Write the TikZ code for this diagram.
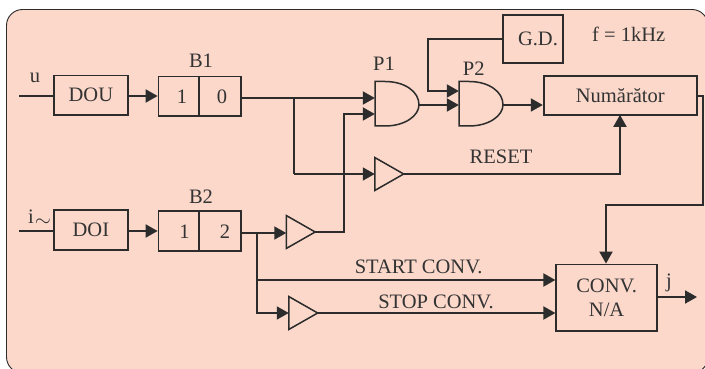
\documentclass[tikz,border=0pt]{standalone}
\usepackage{fontspec}
\setmainfont{Liberation Serif}
\usetikzlibrary{arrows.meta}
\definecolor{bgc}{HTML}{FBD8CA}
\definecolor{ink}{HTML}{2C2C2C}
\definecolor{txtc}{HTML}{333333}
\tikzset{
  boxn/.style={draw=ink,line width=1.7pt,inner sep=0pt,text=txtc,font=\fontsize{20.5}{23}\selectfont,align=center},
  lab/.style={inner sep=0pt,text=txtc,font=\fontsize{20.5}{23}\selectfont},
  gaten/.style={inner sep=0pt,minimum width=44pt,minimum height=44.5pt},
  buffn/.style={inner sep=0pt,minimum width=28.5pt,minimum height=32.6pt},
  wire/.style={draw=ink,line width=1.9pt},
  arr/.style={wire,-{Triangle[length=12pt,width=13pt]}},
  symb/.style={draw=ink,line width=1.5pt,line join=miter}
}
\newcommand{\gateshape}[1]{\begin{scope}[shift={(#1.center)}]
\draw[symb] (-22,-22.25) -- (-12,-22.25) .. controls (8,-22.25) and (22,-12) .. (22,1) .. controls (22,12) and (8,22.25) .. (-12,22.25) -- (-22,22.25) -- cycle;
\end{scope}}
\newcommand{\buffshape}[1]{\draw[symb] (#1.north west) -- (#1.east) -- (#1.south west) -- cycle;}
\begin{document}
\begin{tikzpicture}[x=1pt,y=-1pt]
\useasboundingbox (0,0) rectangle (705,369);
\clip (0,0) rectangle (705,369);
\draw[draw=ink,line width=0.9pt,fill=bgc,rounded corners=16pt] (6.5,9.5) rectangle (708,373);

% boxes
\node[boxn,minimum width=73.5pt,minimum height=39.5pt] (DOU) at (90.9,95.3) {DOU};
\node[boxn,minimum width=73.5pt,minimum height=40pt] (DOI) at (90.9,230) {DOI};
\node[boxn,minimum width=40.5pt,minimum height=39.5pt] (B1l) at (178.75,96.4) {\hspace{6.5pt}1};
\node[boxn,minimum width=42pt,minimum height=39.5pt] (B1r) at (220,96.4) {\hspace{4pt}0};
\node[boxn,minimum width=40.5pt,minimum height=40pt] (B2l) at (178.75,231.3) {\hspace{11.5pt}1};
\node[boxn,minimum width=42pt,minimum height=40pt] (B2r) at (220,231.3) {\hspace{10pt}2};
\node[boxn,minimum width=60pt,minimum height=48pt] (GD) at (532.7,39) {\hspace{10.5pt}G.D.};
\node[boxn,minimum width=153.3pt,minimum height=39pt] (NUM) at (620.3,95.5) {Numărător};
\node[boxn,minimum width=100.7pt,minimum height=66.5pt] (CONV) at (606.6,297.7) {CONV.\\[1pt]N/A};

% gates and buffers
\node[gaten] (P1) at (397,103.75) {};
\node[gaten] (P2) at (481,103.75) {};
\node[buffn] (T0) at (389.2,174) {};
\node[buffn] (T1) at (300.7,232) {};
\node[buffn] (T2) at (303.2,313) {};
\gateshape{P1}
\gateshape{P2}
\buffshape{T0}
\buffshape{T1}
\buffshape{T2}

% labels
\node[lab] (Lu) at (35,78) {u};
\node[lab] (Li) at (39.5,218) {i\kern1pt\raisebox{-3pt}{$\sim$}};
\node[lab] (LB1) at (201,61) {B1};
\node[lab] (LB2) at (201,197) {B2};
\node[lab] (LP1) at (384,64) {P1};
\node[lab] (LP2) at (473.7,69) {P2};
\node[lab] (Lf) at (628.7,34.5) {f = 1kHz};
\node[lab] (LR) at (501,157) {RESET};
\node[lab] (LSTA) at (418.7,267) {START CONV.};
\node[lab] (LSTO) at (436,302) {STOP CONV.};
\node[lab] (Lj) at (669,283) {j};

% free ends and junctions
\coordinate (uin) at (19,96);
\coordinate (iin) at (19,231);
\coordinate (a1) at (0,96);
\coordinate (a2) at (0,231);
\coordinate (h1) at (294,98);
\coordinate (h2) at (294,174);
\coordinate (p1b) at (344,114);
\coordinate (p1c) at (344,232);
\coordinate (gt) at (428,39);
\coordinate (gb) at (428,91);
\coordinate (mid) at (0,105);
\coordinate (rst) at (620,174);
\coordinate (o1) at (703,96);
\coordinate (o2) at (703,205);
\coordinate (o3) at (606,205);
\coordinate (b2o) at (0,233);
\coordinate (j2) at (257,233);
\coordinate (j3) at (257,280);
\coordinate (j4) at (257,313);
\coordinate (jout) at (697,297);

% connectors
\draw[wire] (uin) -- (DOU.west |- uin);
\draw[wire] (iin) -- (DOI.west |- iin);
\draw[arr] (DOU.east |- a1) -- (B1l.west |- a1);
\draw[arr] (DOI.east |- a2) -- (B2l.west |- a2);
\draw[arr] (B1r.east |- h1) -- (P1.west |- h1);
\draw[wire] (h1) -- (h2);
\draw[arr] (h2) -- (T0.west |- h2);
\draw[arr] (T0.east) -- (rst) -- ([yshift=1pt]NUM.south -| rst);
\draw[arr] (B2r.east |- b2o) -- (T1.west |- b2o);
\draw[arr] (T1.east) -- (p1c) -- (p1b) -- (P1.west |- p1b);
\draw[arr] (j2) -- (j3) -- (CONV.west |- j3);
\draw[arr] (j2) -- (j4) -- (T2.west |- j4);
\draw[arr] (T2.east) -- (CONV.west |- T2.east);
\draw[arr] (P1.east |- mid) -- (P2.west |- mid);
\draw[arr] (GD.west |- gt) -- (gt) -- (gb) -- (P2.west |- gb);
\draw[arr] (P2.east |- mid) -- (NUM.west |- mid);
\draw[arr] (NUM.east |- o1) -- (o1) -- (o2) -- (o3) -- (CONV.north -| o3);
\draw[arr] (CONV.east |- jout) -- (jout);
\end{tikzpicture}
\end{document}
